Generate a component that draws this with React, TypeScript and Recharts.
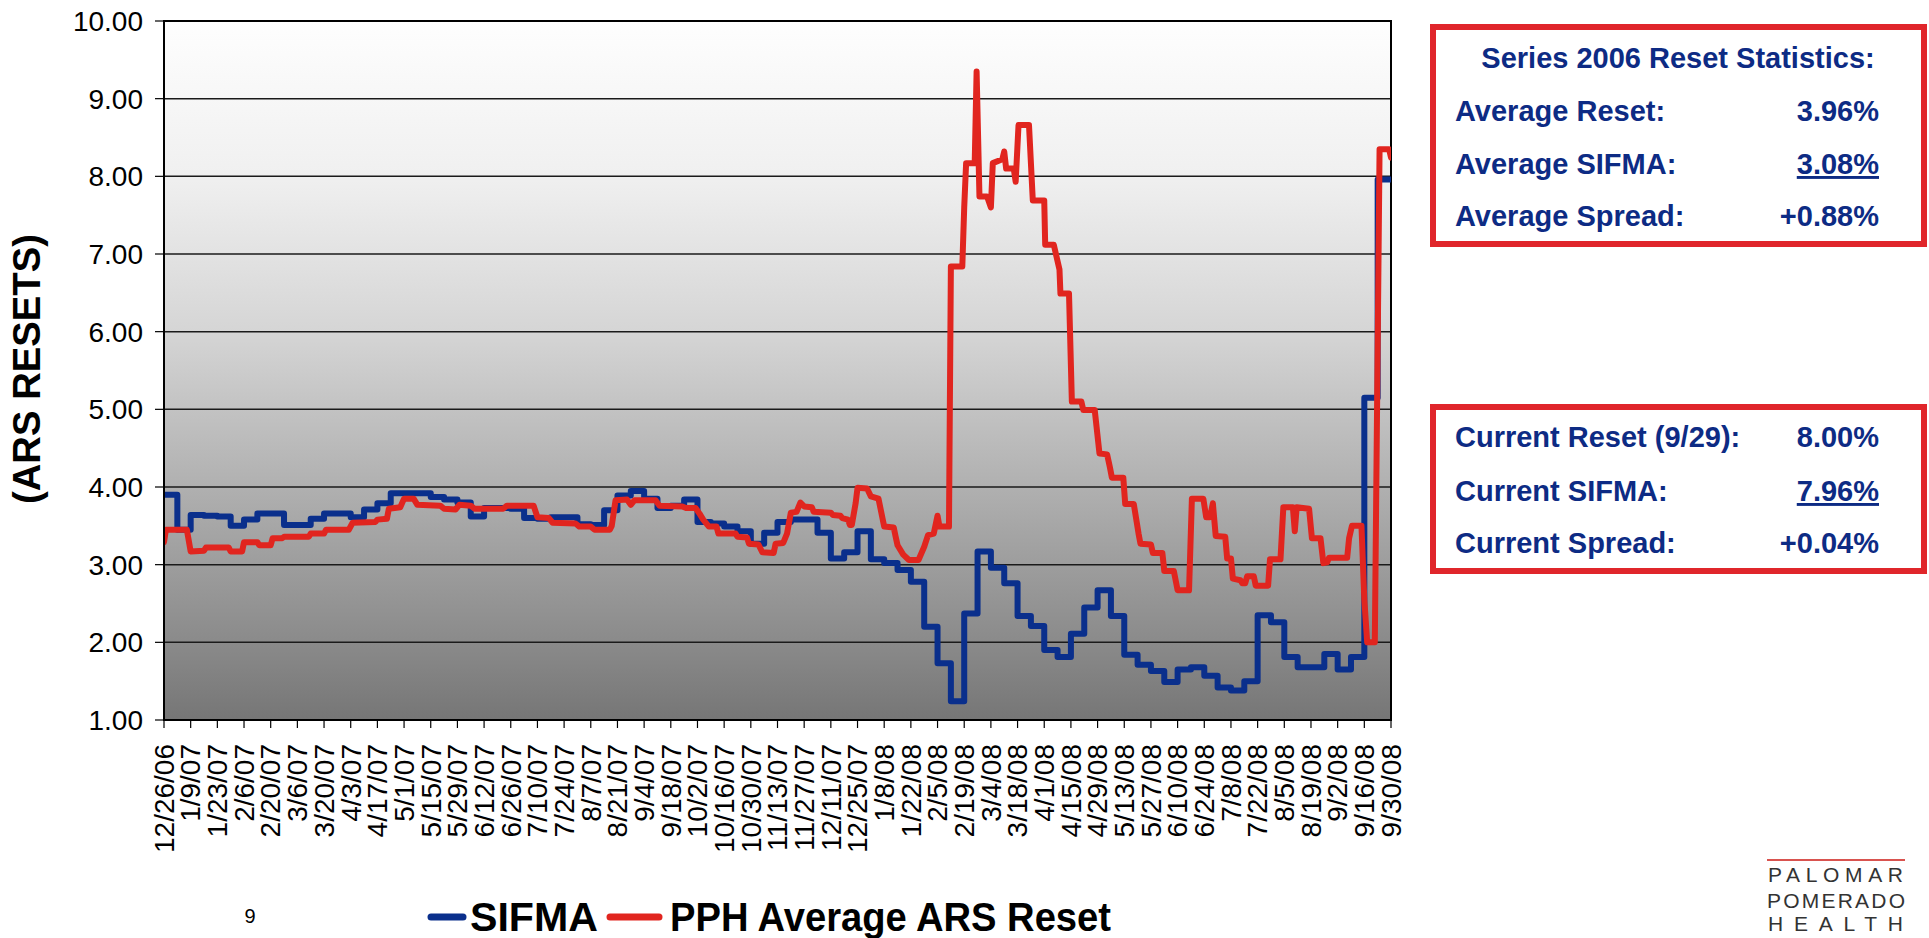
import React from 'react'
import { LineChart, Line, XAxis, YAxis, CartesianGrid, ReferenceArea } from 'recharts'

const FONT = "'Liberation Sans', Arial, Helvetica, sans-serif"
const BLUE = '#0a2f8c'
const RED = '#e1251f'
const NAVY = '#0d2b84'
const BOX_RED = '#e0262b'

// every other Tuesday, 12/26/06 .. 9/30/08 (day offsets 0, 14, 28 ... 644)
const X_TICK_LABELS = [
  '12/26/06', '1/9/07', '1/23/07', '2/6/07', '2/20/07', '3/6/07', '3/20/07', '4/3/07',
  '4/17/07', '5/1/07', '5/15/07', '5/29/07', '6/12/07', '6/26/07', '7/10/07', '7/24/07',
  '8/7/07', '8/21/07', '9/4/07', '9/18/07', '10/2/07', '10/16/07', '10/30/07', '11/13/07',
  '11/27/07', '12/11/07', '12/25/07', '1/8/08', '1/22/08', '2/5/08', '2/19/08', '3/4/08',
  '3/18/08', '4/1/08', '4/15/08', '4/29/08', '5/13/08', '5/27/08', '6/10/08', '6/24/08',
  '7/8/08', '7/22/08', '8/5/08', '8/19/08', '9/2/08', '9/16/08', '9/30/08',
]
const Y_TICKS = [1, 2, 3, 4, 5, 6, 7, 8, 9, 10]

// SIFMA index, one value per weekly reset
const SIFMA_WEEKLY = [
  3.9, 3.45, 3.64, 3.63, 3.62, 3.5, 3.58, 3.66, 3.66, 3.51,
  3.51, 3.59, 3.66, 3.66, 3.61, 3.71, 3.79, 3.92, 3.92, 3.92,
  3.87, 3.84, 3.8, 3.62, 3.73, 3.73, 3.72, 3.6, 3.59, 3.61,
  3.61, 3.52, 3.51, 3.7, 3.89, 3.95, 3.85, 3.73, 3.76, 3.84,
  3.55, 3.53, 3.49, 3.43, 3.27, 3.41, 3.55, 3.58, 3.58, 3.41,
  3.08, 3.16, 3.43, 3.07, 3.02, 2.93, 2.78, 2.2, 1.73, 1.24,
  2.37, 3.17, 2.96, 2.76, 2.34, 2.21, 1.9, 1.81, 2.11, 2.45,
  2.67, 2.34, 1.84, 1.71, 1.63, 1.49, 1.65, 1.68, 1.57, 1.42,
  1.38, 1.5, 2.35, 2.26, 1.81, 1.68, 1.68, 1.85, 1.65, 1.81,
  5.15, 7.96, 7.96,
]

// PPH average ARS reset: [day since 12/26/06, rate]
const PPH_POINTS: [number, number][] = [
  [0, 3.29], [1, 3.45], [12, 3.45], [14, 3.17], [21, 3.18], [22, 3.22], [34, 3.22], [35, 3.17],
  [41, 3.17], [42, 3.29], [49, 3.29], [50, 3.25], [56, 3.25], [57, 3.34], [62, 3.34], [63, 3.36],
  [76, 3.36], [77, 3.4], [84, 3.4], [85, 3.45], [97, 3.45], [99, 3.54], [111, 3.55], [112, 3.58],
  [117, 3.59], [118, 3.72], [124, 3.74], [126, 3.85], [131, 3.85], [133, 3.77], [145, 3.76], [147, 3.72],
  [153, 3.71], [155, 3.77], [161, 3.76], [163, 3.72], [178, 3.72], [180, 3.76], [194, 3.76], [196, 3.61],
  [202, 3.6], [204, 3.54], [216, 3.53], [218, 3.49], [224, 3.49], [226, 3.45], [234, 3.45], [235, 3.5],
  [237, 3.83], [243, 3.84], [245, 3.77], [247, 3.83], [258, 3.83], [260, 3.76], [272, 3.75], [274, 3.73],
  [279, 3.73], [281, 3.66], [283, 3.58], [286, 3.49], [290, 3.49], [291, 3.4], [300, 3.4], [301, 3.36],
  [306, 3.35], [307, 3.27], [312, 3.26], [314, 3.16], [320, 3.15], [321, 3.27], [325, 3.28], [327, 3.4],
  [329, 3.67], [332, 3.68], [334, 3.8], [336, 3.75], [340, 3.74], [341, 3.68], [350, 3.67], [351, 3.64],
  [355, 3.63], [356, 3.6], [359, 3.58], [360, 3.51], [361, 3.51], [363, 3.79], [364, 3.99], [369, 3.98],
  [371, 3.88], [375, 3.85], [378, 3.49], [383, 3.48], [384, 3.36], [385, 3.25], [388, 3.13], [391, 3.06],
  [396, 3.06], [399, 3.23], [401, 3.38], [404, 3.4], [406, 3.63], [407, 3.49], [412, 3.49], [413, 6.84],
  [419, 6.84], [420, 7.6], [421, 8.17], [425.5, 8.17], [426.5, 9.35], [428, 7.74], [432, 7.74], [434, 7.6],
  [435, 8.17], [440, 8.22], [441, 8.32], [442, 8.1], [446, 8.1], [447, 7.93], [448.5, 8.66], [454, 8.66],
  [456, 7.69], [462, 7.69], [462.5, 7.12], [467, 7.12], [470, 6.8], [470.5, 6.49], [475, 6.49], [476.5, 5.1],
  [481.5, 5.1], [482.5, 4.99], [488.5, 4.99], [491, 4.43], [495, 4.42], [496.5, 4.25], [497.5, 4.12], [503.5, 4.12],
  [504.5, 3.78], [509, 3.78], [511.5, 3.4], [512.5, 3.27], [518, 3.26], [519, 3.15], [524, 3.15], [525, 2.92],
  [530, 2.92], [532, 2.67], [538, 2.67], [539.5, 3.85], [545.5, 3.85], [547, 3.61], [549, 3.61], [550.5, 3.79],
  [552, 3.37], [557, 3.36], [558, 3.08], [560, 3.08], [561, 2.82], [565, 2.8], [566, 2.76], [567.5, 2.76],
  [568.5, 2.85], [572, 2.85], [573, 2.73], [579.5, 2.73], [580.5, 3.07], [586, 3.07], [587.5, 3.74], [592.5, 3.74],
  [593.5, 3.43], [594.5, 3.74], [601, 3.72], [602.5, 3.34], [607, 3.34], [608.5, 3.02], [610.5, 3.03], [611.5, 3.09],
  [621, 3.09], [622, 3.34], [623.5, 3.5], [628.5, 3.5], [630, 2.55], [631.5, 2.0], [635.5, 2.0], [638, 8.35],
  [643, 8.35], [644, 8.24],
]

const AVERAGE_ROWS: [string, string, boolean][] = [
  ['Average Reset:', '3.96%', false],
  ['Average SIFMA:', '3.08%', true],
  ['Average Spread:', '+0.88%', false],
]
const CURRENT_ROWS: [string, string, boolean][] = [
  ['Current Reset (9/29):', '8.00%', false],
  ['Current SIFMA:', '7.96%', true],
  ['Current Spread:', '+0.04%', false],
]

const sifmaData = SIFMA_WEEKLY.map((v, i) => ({ day: i * 7, v }))
const pphData = PPH_POINTS.map(([day, v]) => ({ day, v }))
const xTicks = X_TICK_LABELS.map((_, i) => i * 14)

const DateTick = (props: any) => {
  const { x, y, payload } = props
  const label = X_TICK_LABELS[Math.round(payload.value / 14)]
  return (
    <text
      x={x}
      y={y}
      transform={`rotate(-90, ${x}, ${y})`}
      textAnchor="end"
      dy="0.35em"
      fontSize={28}
      fill="#000"
      fontFamily={FONT}
    >
      {label}
    </text>
  )
}

const StatRows = ({ rows, baselines }: { rows: [string, string, boolean][]; baselines: number[] }) => (
  <>
    {rows.map(([label, value, underline], i) => (
      <g key={label}>
        <text x={1455} y={baselines[i]} fontSize={29} fontWeight="bold" fill={NAVY}>
          {label}
        </text>
        <text
          x={1879}
          y={baselines[i]}
          fontSize={29}
          fontWeight="bold"
          fill={NAVY}
          textAnchor="end"
          style={underline ? { textDecoration: 'underline' } : undefined}
        >
          {value}
        </text>
      </g>
    ))}
  </>
)

export default function App() {
  return (
    <div
      style={{
        position: 'absolute',
        left: 0,
        top: 0,
        width: 1929,
        height: 938,
        background: '#fff',
        fontFamily: FONT,
        overflow: 'hidden',
      }}
    >
      <svg width={0} height={0} style={{ position: 'absolute' }}>
        <defs>
          <linearGradient id="plotBg" x1="0" y1="0" x2="0" y2="1">
            <stop offset="0%" stopColor="#fefefe" />
            <stop offset="22%" stopColor="#f0f0f0" />
            <stop offset="44.5%" stopColor="#d5d5d5" />
            <stop offset="66.7%" stopColor="#b0b0b0" />
            <stop offset="89%" stopColor="#8a8a8a" />
            <stop offset="100%" stopColor="#767676" />
          </linearGradient>
        </defs>
      </svg>

      <div style={{ position: 'absolute', left: 0, top: 0 }}>
        <LineChart
          width={1929}
          height={938}
          margin={{ top: 21, right: 538, bottom: 68, left: 0 }}
          style={{ fontFamily: FONT }}
        >
          <CartesianGrid
            vertical={false}
            stroke="#1a1a1a"
            strokeWidth={1.5}
            fill="url(#plotBg)"
            fillOpacity={1}
          />
          <XAxis
            dataKey="day"
            type="number"
            domain={[0, 644]}
            ticks={xTicks}
            interval={0}
            height={150}
            tick={<DateTick />}
            tickSize={8}
            tickMargin={16}
            axisLine={{ stroke: '#000', strokeWidth: 2 }}
            tickLine={{ stroke: '#000', strokeWidth: 1.2 }}
            allowDataOverflow
          />
          <YAxis
            type="number"
            domain={[1, 10]}
            ticks={Y_TICKS}
            interval={0}
            width={164}
            tickFormatter={(v: number) => v.toFixed(2)}
            tick={{ fontSize: 28, fill: '#000', fontFamily: FONT }}
            tickSize={9}
            tickMargin={12}
            axisLine={{ stroke: '#000', strokeWidth: 2 }}
            tickLine={{ stroke: '#000', strokeWidth: 1.2 }}
            allowDataOverflow
          />
          <ReferenceArea
            x1={0}
            x2={644}
            y1={1}
            y2={10}
            fill="none"
            fillOpacity={0}
            stroke="#000"
            strokeWidth={2}
          />
          <Line
            data={sifmaData}
            dataKey="v"
            type="stepAfter"
            stroke={BLUE}
            strokeWidth={6}
            strokeLinejoin="round"
            strokeLinecap="round"
            dot={false}
            activeDot={false}
            isAnimationActive={false}
          />
          <Line
            data={pphData}
            dataKey="v"
            type="linear"
            stroke={RED}
            strokeWidth={6}
            strokeLinejoin="round"
            strokeLinecap="round"
            dot={false}
            activeDot={false}
            isAnimationActive={false}
          />
        </LineChart>
      </div>

      <svg
        width={1929}
        height={938}
        style={{ position: 'absolute', left: 0, top: 0, pointerEvents: 'none', fontFamily: FONT }}
      >
        {/* axis title */}
        <text
          x={27}
          y={369}
          transform="rotate(-90, 27, 369)"
          textAnchor="middle"
          dy="0.35em"
          fontSize={38}
          fontWeight="bold"
          fill="#000"
          textLength={270}
          lengthAdjust="spacingAndGlyphs"
        >
          (ARS RESETS)
        </text>

        {/* legend */}
        <line x1={431} x2={463} y1={917} y2={917} stroke={BLUE} strokeWidth={7} strokeLinecap="round" />
        <text x={470} y={931} fontSize={40} fontWeight="bold" fill="#000" textLength={128} lengthAdjust="spacingAndGlyphs">
          SIFMA
        </text>
        <line x1={610} x2={659} y1={917} y2={917} stroke={RED} strokeWidth={7} strokeLinecap="round" />
        <text x={670} y={931} fontSize={40} fontWeight="bold" fill="#000" textLength={441} lengthAdjust="spacingAndGlyphs">
          PPH Average ARS Reset
        </text>

        {/* page number */}
        <text x={250} y={923} fontSize={20} fill="#000" textAnchor="middle">
          9
        </text>

        {/* stats boxes */}
        <rect x={1433} y={27} width={491} height={217} fill="none" stroke={BOX_RED} strokeWidth={6} />
        <text x={1678} y={68} fontSize={29} fontWeight="bold" fill={NAVY} textAnchor="middle">
          Series 2006 Reset Statistics:
        </text>
        <StatRows rows={AVERAGE_ROWS} baselines={[121, 174, 226]} />

        <rect x={1433} y={407} width={491} height={164} fill="none" stroke={BOX_RED} strokeWidth={6} />
        <StatRows rows={CURRENT_ROWS} baselines={[447, 501, 553]} />

        {/* logo */}
        <line x1={1767} x2={1905} y1={860} y2={860} stroke="#d9534f" strokeWidth={2} />
        <text x={1768} y={882} fontSize={21} fill="#333" textLength={135} lengthAdjust="spacing">
          PALOMAR
        </text>
        <text x={1767} y={908} fontSize={21} fill="#333" textLength={138} lengthAdjust="spacing">
          POMERADO
        </text>
        <text x={1768} y={931} fontSize={21} fill="#333" textLength={135} lengthAdjust="spacing">
          HEALTH
        </text>
      </svg>
    </div>
  )
}
